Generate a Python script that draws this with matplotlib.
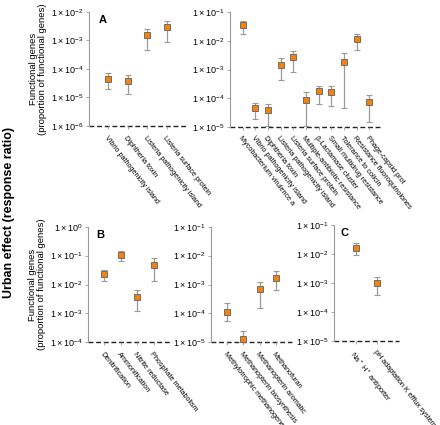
import numpy as np
import matplotlib
matplotlib.use("Agg")
import matplotlib.pyplot as plt

plt.rcParams['font.family'] = ['Liberation Sans', 'DejaVu Sans']
plt.rcParams['mathtext.fontset'] = 'custom'
plt.rcParams['mathtext.rm'] = 'Liberation Sans'
plt.rcParams['mathtext.it'] = 'Liberation Sans:italic'
plt.rcParams['mathtext.bf'] = 'Liberation Sans:bold'

# panel A, left: pathogens
a1_names = ["Vibrio pathogenicity island", "Diphtheria toxin",
            "Listeria pathogenicity island", "Listeria surface protein"]
a1_val = [4.5e-5, 3.8e-5, 1.55e-3, 2.9e-3]
a1_lo = [2.0e-5, 1.3e-5, 4.5e-4, 8.7e-4]
a1_hi = [7.0e-5, 6.3e-5, 2.6e-3, 4.8e-3]

# panel A, right
a2_names = ["Mycobacterium virulence a", "Vibrio pathogenicity island",
            "Diphtheria toxin", "Listeria pathogenicity island",
            "Listeria surface protein", "Multiple-antibiotic resistance",
            "\u03b2-Lactamase cluster", "Small multidrug resistance",
            "Tolerance to colicin", "Resistance fluoroquinolones",
            "Phage-capsid prot"]
a2_val = [3.5e-2, 4.4e-5, 3.7e-5, 1.48e-3, 2.75e-3, 8.7e-5,
          1.74e-4, 1.6e-4, 1.8e-3, 1.17e-2, 7.4e-5]
a2_lo = [1.75e-2, 1.85e-5, 1.1e-5, 4.4e-4, 8.2e-4, 1.05e-5,
         6.3e-5, 5.1e-5, 4.5e-5, 4.9e-3, 1.5e-5]
a2_hi = [5.1e-2, 6.9e-5, 6.2e-5, 2.5e-3, 4.6e-3, 1.6e-4,
         2.7e-4, 2.7e-4, 3.7e-3, 1.8e-2, 1.3e-4]

# panel B, left: nitrogen / phosphorus
b1_names = ["Denitrification", "Ammonification", "Nitrite reductase",
            "Phosphate metabolism"]
b1_val = [2.25e-2, 0.102, 3.8e-3, 4.9e-2]
b1_lo = [1.35e-2, 6.5e-2, 1.2e-3, 1.3e-2]
b1_hi = [3.2e-2, 0.14, 6.5e-3, 8.5e-2]

# panel B, right: methanogenesis
b2_names = ["Methylotrophic methanogenesis", "Methanopterin biosynthesis",
            "Methanopterin aromatic", "Methanofuran"]
b2_val = [1.1e-4, 1.35e-5, 6.8e-4, 1.73e-3]
b2_lo = [5.5e-5, 1.0e-5, 1.5e-4, 6.4e-4]
b2_hi = [2.3e-4, 2.5e-5, 1.2e-3, 2.9e-3]

# panel C: pH
c_names = ["Na$^+$ H$^+$ antiporter", "pH adaptation K efflux system"]
c_val = [1.65e-2, 1.0e-3]
c_lo = [9.2e-3, 3.7e-4]
c_hi = [2.3e-2, 1.6e-3]

W, H = 440, 425
fig = plt.figure(figsize=(W / 100, H / 100), dpi=100)


def box(l, r, t, b):
    return [l / W, 1 - b / H, (r - l) / W, (b - t) / H]


def panel(rect, names, val, lo, hi, ylo, yhi, letter=None, ylabel=False):
    ax = fig.add_axes(rect)
    n = len(names)
    x = np.arange(1, n + 1)
    val = np.array(val)
    err = [val - np.array(lo), np.array(hi) - val]
    ax.errorbar(x, val, yerr=err, fmt='none', ecolor='#9a9a9a',
                elinewidth=0.9, capsize=2, capthick=0.8, zorder=2)
    ax.plot(x, val, 's', ms=5, mfc='#f5820a', mec='#6e6e6e', mew=0.7,
            zorder=3)
    ax.set_yscale('log')
    ax.set_ylim(ylo, yhi)
    ax.set_xlim(0, n + 1)
    ax.axhline(ylo, color='#222222', lw=1.0, ls=(0, (3.5, 2)),
               zorder=1, clip_on=False)
    for s in ['top', 'right', 'bottom']:
        ax.spines[s].set_visible(False)
    ax.spines['left'].set_color('#9a9a9a')
    ax.spines['left'].set_linewidth(0.8)
    exps = np.arange(int(round(np.log10(ylo))), int(round(np.log10(yhi))) + 1)
    ax.set_yticks(10.0 ** exps)
    ax.set_yticklabels([r'$1\times10^{%d}$' % e for e in exps])
    ax.minorticks_off()
    ax.tick_params(axis='y', length=2, width=0.6, color='#9a9a9a',
                   labelsize=6.5, pad=2)
    ax.set_xticks(x)
    ax.set_xticklabels(names, rotation=-52, ha='left', va='top',
                       rotation_mode='anchor', fontsize=5.2)
    ax.tick_params(axis='x', length=2, width=0.6, color='#9a9a9a', pad=4)
    if letter:
        ax.text(0.1, 0.97, letter, transform=ax.transAxes, fontsize=8,
                fontweight='bold', va='top', ha='left')
    if ylabel:
        ax.set_ylabel("Functional genes\n(proportion of functional genes)",
                      fontsize=6.8, labelpad=3, linespacing=1.0)
    return ax


panel(box(89, 186, 12, 126), a1_names, a1_val, a1_lo, a1_hi, 1e-6, 1e-2,
      letter='A', ylabel=True)
panel(box(230, 382, 12.3, 126.7), a2_names, a2_val, a2_lo, a2_hi, 1e-5, 1e-1)
panel(box(88, 170, 226.7, 342.3), b1_names, b1_val, b1_lo, b1_hi, 1e-4, 1e0,
      letter='B', ylabel=True)
panel(box(211, 292, 226.7, 342.3), b2_names, b2_val, b2_lo, b2_hi, 1e-5, 1e-1)
panel(box(334, 399, 225, 340.7), c_names, c_val, c_lo, c_hi, 1e-5, 1e-1,
      letter='C')

fig.text(9 / W, 1 - 212 / H, "Urban effect (response ratio)", rotation=90,
         fontsize=9, fontweight='bold', ha='center', va='center')

fig.savefig("out.png", dpi=100)
